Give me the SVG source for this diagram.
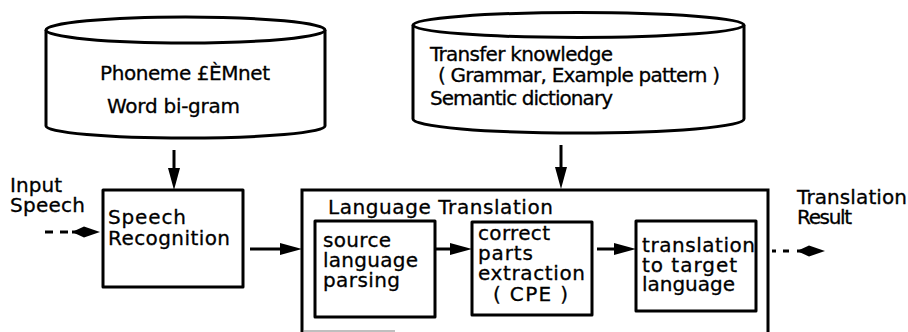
<svg xmlns="http://www.w3.org/2000/svg" width="908" height="332" viewBox="0 0 908 332">
<style>
.shape{fill:#fff;stroke:#000;stroke-width:3;stroke-linejoin:round}
.t{font-family:"DejaVu Sans","Liberation Sans",Arial,sans-serif;font-size:20px;fill:#000;stroke:#000;stroke-width:0.3}
.c{stroke:#000;stroke-width:3;fill:none}
</style>
<defs>
<marker id="arr" viewBox="0 0 22 12" refX="10" refY="6" markerWidth="22" markerHeight="12" markerUnits="userSpaceOnUse" orient="auto">
<path d="M0,0 L22,6 L0,12 Z" fill="#000"/>
</marker>
<marker id="sp" viewBox="0 0 28 12" refX="14" refY="6" markerWidth="28" markerHeight="12" markerUnits="userSpaceOnUse" orient="auto">
<path d="M0,6 L12,0.5 L28,6 L12,11.5 Z" fill="#000"/>
</marker>
</defs>
<rect width="908" height="332" fill="#fff"/>

<g id="db-speech">
<path class="shape" d="M46,30 V126 A139.5,12 0 0 0 325,126 V30"/>
<ellipse class="shape" cx="185.5" cy="30" rx="139.5" ry="13"/>
<text class="t" x="100" y="80" textLength="170" lengthAdjust="spacing">Phoneme £ÈMnet</text>
<text class="t" x="107" y="113" textLength="133" lengthAdjust="spacing">Word bi-gram</text>
</g>

<g id="db-transfer">
<path class="shape" d="M413,25 V119 A165.5,14 0 0 0 744,119 V25"/>
<ellipse class="shape" cx="578.5" cy="25" rx="165.5" ry="12.5"/>
<text class="t" x="430" y="61" textLength="183" lengthAdjust="spacing">Transfer knowledge</text>
<text class="t" x="438" y="82" textLength="282" lengthAdjust="spacing">( Grammar, Example pattern )</text>
<text class="t" x="430" y="105" textLength="183" lengthAdjust="spacing">Semantic dictionary</text>
</g>

<g id="input-label">
<text class="t" x="10" y="192" textLength="52" lengthAdjust="spacing">Input</text>
<text class="t" x="10" y="212" textLength="75" lengthAdjust="spacing">Speech</text>
</g>

<g id="speech-recognition">
<rect class="shape" x="103" y="190" width="140" height="97"/>
<text class="t" x="108" y="224" textLength="78" lengthAdjust="spacing">Speech</text>
<text class="t" x="108" y="245" textLength="122" lengthAdjust="spacing">Recognition</text>
</g>

<g id="language-translation">
<path d="M302,333 V190 H768 V333" fill="#fff" stroke="#000" stroke-width="3"/>
<line x1="304" y1="331" x2="395" y2="331" stroke="#aaa" stroke-width="1.5"/>
<text class="t" x="328" y="214" textLength="225" lengthAdjust="spacing">Language Translation</text>
</g>

<g id="source-parsing">
<rect class="shape" x="315" y="221" width="120" height="96"/>
<text class="t" x="323" y="247" textLength="68" lengthAdjust="spacing">source</text>
<text class="t" x="323" y="267" textLength="95" lengthAdjust="spacing">language</text>
<text class="t" x="323" y="287" textLength="77" lengthAdjust="spacing">parsing</text>
</g>

<g id="cpe">
<rect class="shape" x="472" y="222" width="120" height="93"/>
<text class="t" x="478" y="240" textLength="72" lengthAdjust="spacing">correct</text>
<text class="t" x="478" y="260" textLength="55" lengthAdjust="spacing">parts</text>
<text class="t" x="478" y="280" textLength="107" lengthAdjust="spacing">extraction</text>
<text class="t" x="493" y="301" textLength="75" lengthAdjust="spacing">( CPE )</text>
</g>

<g id="target-translation">
<rect class="shape" x="636" y="221" width="120" height="90"/>
<text class="t" x="642" y="252" textLength="113" lengthAdjust="spacing">translation</text>
<text class="t" x="642" y="272" textLength="95" lengthAdjust="spacing">to target</text>
<text class="t" x="642" y="291" textLength="93" lengthAdjust="spacing">language</text>
</g>

<g id="output-label">
<text class="t" x="797" y="204" textLength="110" lengthAdjust="spacing">Translation</text>
<text class="t" x="797" y="224" textLength="55" lengthAdjust="spacing">Result</text>
</g>

<g id="connectors">
<line class="c" x1="174" y1="150" x2="174" y2="178" marker-end="url(#arr)"/>
<line class="c" x1="561" y1="145" x2="561" y2="177" marker-end="url(#arr)"/>
<line class="c" x1="45" y1="232" x2="53" y2="232"/>
<line class="c" x1="60" y1="232" x2="68" y2="232"/>
<line class="c" x1="72" y1="232" x2="86" y2="232" marker-end="url(#sp)"/>
<line class="c" x1="250" y1="249" x2="290" y2="249" marker-end="url(#arr)"/>
<line class="c" x1="435" y1="249" x2="460" y2="249" marker-end="url(#arr)"/>
<line class="c" x1="597" y1="249" x2="624" y2="249" marker-end="url(#arr)"/>
<line class="c" x1="772" y1="251" x2="776" y2="251"/>
<line class="c" x1="783" y1="251" x2="789" y2="251"/>
<line class="c" x1="797" y1="251" x2="811" y2="251" marker-end="url(#sp)"/>
</g>
</svg>
